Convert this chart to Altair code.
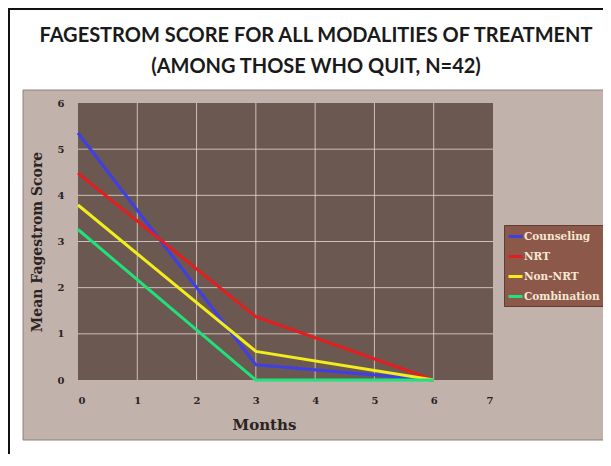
import altair as alt
import pandas as pd

# ---- data ----
months = [0, 3, 6]
series_names = ["Counseling", "NRT", "Non-NRT", "Combination"]
counseling = [5.35, 0.33, 0.0]
nrt = [4.48, 1.37, 0.0]
non_nrt = [3.79, 0.62, 0.0]
combination = [3.26, 0.0, 0.0]
series_colors = ["#3f3fe6", "#e41e1e", "#f2ee1e", "#1fe27a"]

x_ticks = [0, 1, 2, 3, 4, 5, 6, 7]
y_ticks = [0, 1, 2, 3, 4, 5, 6]
x_domain = [0, 7]
y_domain = [0, 6]

title_lines = ["FAGESTROM SCORE FOR ALL MODALITIES OF TREATMENT",
               "(AMONG THOSE WHO QUIT, N=42)"]

rows = []
for name, vals in zip(series_names, [counseling, nrt, non_nrt, combination]):
    for m, v in zip(months, vals):
        rows.append({"Months": m, "Score": v, "Modality": name})
df = pd.DataFrame(rows)

W, H = 415, 277
SERIF = "DejaVu Serif"

xaxis = alt.Axis(values=x_ticks, grid=False, domain=False, ticks=False,
                 labelPadding=15, labelFont=SERIF, labelFontWeight="bold",
                 labelFontSize=10, labelColor="#2b2222",
                 title="Months", titleFont=SERIF, titleFontWeight="bold",
                 titleFontSize=15, titleColor="#2b2222", titlePadding=12,
                 titleX=186, zindex=1)
yaxis = alt.Axis(values=y_ticks, grid=False, domain=False, ticks=False,
                 labelPadding=14, labelFont=SERIF, labelFontWeight="bold",
                 labelFontSize=10, labelColor="#2b2222",
                 title="Mean Fagestrom Score", titleFont=SERIF,
                 titleFontWeight="bold", titleFontSize=14,
                 titleColor="#2b2222", titlePadding=13, zindex=1)
xs = alt.Scale(domain=x_domain, nice=False, zero=False)
ys = alt.Scale(domain=y_domain, nice=False, zero=False)

one = pd.DataFrame({"a": [0]})

# decorative frame
border = alt.Chart(one).mark_rect(fill="white", stroke="#111111", strokeWidth=2).encode(
    x=alt.value(-69), x2=alt.value(560), y=alt.value(-94), y2=alt.value(420))
panel = alt.Chart(one).mark_rect(fill="#c1b2ab", stroke="#8f807a", strokeWidth=1).encode(
    x=alt.value(-55), x2=alt.value(530), y=alt.value(-13), y2=alt.value(337))

title_df = pd.DataFrame({"t": ["\n".join(title_lines)]})
title = alt.Chart(title_df).mark_text(font="Lato", fontWeight="bold", fontSize=20,
                                      color="#1a1a1a", align="center", baseline="alphabetic",
                                      lineBreak="\n", lineHeight=31).encode(
    text="t:N", x=alt.value(238), y=alt.value(-61))

plot_bg_df = pd.DataFrame({"x0": [x_domain[0]], "x1": [x_domain[1]],
                           "y0": [y_domain[0]], "y1": [y_domain[1]]})
plot_bg = alt.Chart(plot_bg_df).mark_rect(fill="#6b5851").encode(
    x=alt.X("x0:Q", scale=xs, axis=xaxis), x2="x1:Q",
    y=alt.Y("y0:Q", scale=ys, axis=yaxis), y2="y1:Q")

vgrid_df = pd.DataFrame({"gx": x_ticks[1:-1], "y0": y_domain[0], "y1": y_domain[1]})
hgrid_df = pd.DataFrame({"gy": y_ticks[1:-1], "x0": x_domain[0], "x1": x_domain[1]})
vgrid = alt.Chart(vgrid_df).mark_rule(color="#ddd2cc", strokeWidth=1, opacity=0.85).encode(
    x=alt.X("gx:Q", scale=xs, axis=xaxis), y=alt.Y("y0:Q", scale=ys, axis=yaxis), y2="y1:Q")
hgrid = alt.Chart(hgrid_df).mark_rule(color="#ddd2cc", strokeWidth=1, opacity=0.85).encode(
    y=alt.Y("gy:Q", scale=ys, axis=yaxis), x=alt.X("x0:Q", scale=xs, axis=xaxis), x2="x1:Q")

lines = alt.Chart(df).mark_line(strokeWidth=3).encode(
    x=alt.X("Months:Q", scale=xs, axis=xaxis),
    y=alt.Y("Score:Q", scale=ys, axis=yaxis),
    color=alt.Color("Modality:N",
                    scale=alt.Scale(domain=series_names, range=series_colors),
                    sort=series_names,
                    legend=alt.Legend(title=None, orient="none", legendX=426, legendY=122,
                                      fillColor="#8c5849", strokeColor="#5e3d33",
                                      padding=3, symbolType="stroke",
                                      symbolSize=196, symbolStrokeWidth=3,
                                      labelFont=SERIF, labelFontWeight="bold",
                                      labelFontSize=10.5, labelColor="#f6e7d4",
                                      labelOffset=0, rowPadding=5, zindex=1)),
    order="Months:Q")

chart = alt.layer(border, panel, title, plot_bg, vgrid, hgrid, lines).properties(
    width=W, height=H,
    autosize=alt.AutoSizeParams(type="none"),
    padding={"left": 70, "top": 95, "right": 110, "bottom": 74},
    background="white",
).configure_view(stroke=None)

chart.save("out.html", embed_options={"renderer": "svg", "actions": False})
